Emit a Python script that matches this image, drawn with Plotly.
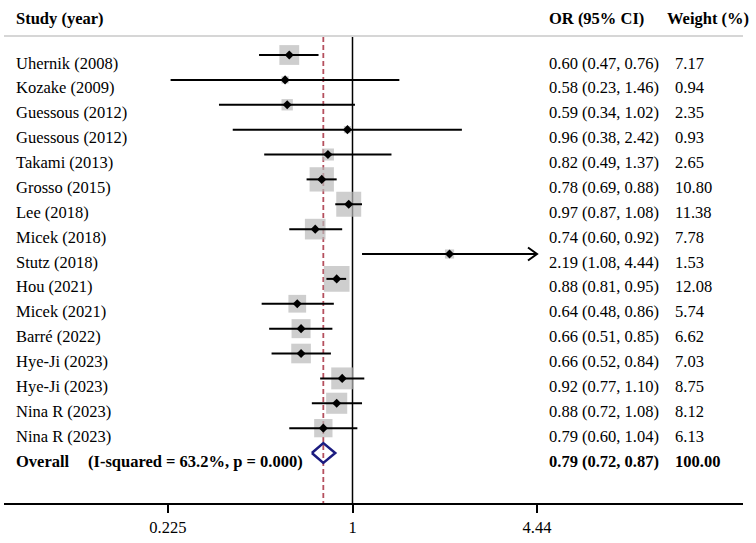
import math
import plotly.graph_objects as go

studies = ["Uhernik (2008)", "Kozake (2009)", "Guessous (2012)", "Guessous (2012)", "Takami (2013)",
           "Grosso (2015)", "Lee (2018)", "Micek (2018)", "Stutz (2018)", "Hou (2021)", "Micek (2021)",
           "Barré (2022)", "Hye-Ji (2023)", "Hye-Ji (2023)", "Nina R (2023)", "Nina R (2023)"]
or_vals = [0.60, 0.58, 0.59, 0.96, 0.82, 0.78, 0.97, 0.74, 2.19, 0.88, 0.64, 0.66, 0.66, 0.92, 0.88, 0.79]
ci_low = [0.47, 0.23, 0.34, 0.38, 0.49, 0.69, 0.87, 0.60, 1.08, 0.81, 0.48, 0.51, 0.52, 0.77, 0.72, 0.60]
ci_high = [0.76, 1.46, 1.02, 2.42, 1.37, 0.88, 1.08, 0.92, 4.44, 0.95, 0.86, 0.85, 0.84, 1.10, 1.08, 1.04]
weights = [7.17, 0.94, 2.35, 0.93, 2.65, 10.80, 11.38, 7.78, 1.53, 12.08, 5.74, 6.62, 7.03, 8.75, 8.12, 6.13]
overall_or, overall_low, overall_high, overall_weight = 0.79, 0.72, 0.87, 100.00
i_squared, p_value = "63.2%", "0.000"
tick_vals = [0.225, 1, 4.44]
tick_text = ["0.225", "1", "4.44"]
x_clip_max = 4.44

W, H = 756, 543
FONT = "Liberation Serif"
FS = 16.5

n = len(studies)
rows = list(range(n))
overall_row = n

# pixel geometry
ROW0_PX, ROW_STEP = 55, 24.875
def py2row(p):
    return (p - ROW0_PX) / ROW_STEP
AX_LEFT, AX_RIGHT, AX_Y = 4, 743, 503
PX_PER_DEC, ONE_PX = 285.0, 352.5
xr = [(AX_LEFT - ONE_PX) / PX_PER_DEC, (AX_RIGHT - ONE_PX) / PX_PER_DEC]
yr = [py2row(AX_Y), py2row(0)]
top_row = py2row(37)

fig = go.Figure()

# reference lines
fig.add_trace(go.Scatter(x=[1, 1], y=[top_row, yr[0]], mode="lines",
                         line=dict(color="black", width=1.5), hoverinfo="skip"))
fig.add_trace(go.Scatter(x=[overall_or, overall_or], y=[top_row, yr[0]], mode="lines",
                         line=dict(color="#b5505e", width=1.8, dash="5px,3px"), hoverinfo="skip"))

# weight boxes
fig.add_trace(go.Scatter(x=or_vals, y=rows, mode="markers",
                         marker=dict(symbol="square", size=[7.4 * math.sqrt(w) for w in weights],
                                     color="#b9b9b9", line=dict(width=0)), hoverinfo="skip"))

# CI lines
cx, cy = [], []
for lo, hi, r in zip(ci_low, ci_high, rows):
    cx += [lo, min(hi, x_clip_max), None]
    cy += [r, r, None]
fig.add_trace(go.Scatter(x=cx, y=cy, mode="lines", line=dict(color="black", width=2), hoverinfo="skip"))

# arrows for CIs reaching the clip limit
ax_, ay_ = [], []
back = 10 ** (9 / PX_PER_DEC)
for hi, r in zip(ci_high, rows):
    if hi >= x_clip_max:
        ax_ += [x_clip_max / back, x_clip_max, x_clip_max / back, None]
        ay_ += [r - 0.26, r, r + 0.26, None]
fig.add_trace(go.Scatter(x=ax_, y=ay_, mode="lines", line=dict(color="black", width=2), hoverinfo="skip"))

# point estimates
fig.add_trace(go.Scatter(x=or_vals, y=rows, mode="markers",
                         marker=dict(symbol="diamond", size=7, color="black"), hoverinfo="skip"))

# overall diamond
fig.add_trace(go.Scatter(x=[overall_low, overall_or, overall_high, overall_or, overall_low],
                         y=[overall_row, overall_row - 0.4, overall_row, overall_row + 0.4, overall_row],
                         mode="lines", line=dict(color="#1c1c80", width=2.5), hoverinfo="skip"))

def px2paper(px):
    return px / W

ann = []
def txt(text, xpx, yrow, bold=False):
    ann.append(dict(text=f"<b>{text}</b>" if bold else text, x=px2paper(xpx), xref="paper",
                    y=yrow, yref="y", xanchor="left", yanchor="middle", showarrow=False,
                    font=dict(family=FONT, size=FS, color="black")))

hdr = py2row(18)
txt("Study (year)", 14, hdr, True)
txt("OR (95% CI)", 547, hdr, True)
txt("Weight (%)", 665, hdr, True)
off = 8 / ROW_STEP
for s, o, lo, hi, w, r in zip(studies, or_vals, ci_low, ci_high, weights, rows):
    txt(s, 14, r + off)
    txt(f"{o:.2f} ({lo:.2f}, {hi:.2f})", 547, r + off)
    txt(f"{w:.2f}", 673, r + off)
txt("Overall", 14, overall_row + off, True)
txt(f"(I-squared = {i_squared}, p = {p_value})", 86, overall_row + off, True)
txt(f"{overall_or:.2f} ({overall_low:.2f}, {overall_high:.2f})", 547, overall_row + off, True)
txt(f"{overall_weight:.2f}", 673, overall_row + off, True)

fig.update_layout(
    width=W, height=H, margin=dict(l=0, r=0, t=0, b=0),
    paper_bgcolor="white", plot_bgcolor="white", showlegend=False,
    annotations=ann,
    shapes=[dict(type="line", xref="paper", yref="y", x0=px2paper(AX_LEFT), x1=px2paper(AX_RIGHT),
                 y0=py2row(36), y1=py2row(36), line=dict(color="#c8c8c8", width=1.5))],
    xaxis=dict(type="log", range=xr, domain=[AX_LEFT / W, AX_RIGHT / W], showgrid=False, zeroline=False,
               showline=True, linecolor="black", linewidth=2, ticks="outside", ticklen=8, tickwidth=1.5,
               tickcolor="black", tickvals=tick_vals, ticktext=tick_text, automargin=False,
               tickfont=dict(family=FONT, size=FS, color="black"), anchor="y"),
    yaxis=dict(range=yr, domain=[(H - AX_Y) / H, 1], visible=False, automargin=False),
)

fig.write_html("out.html", config={"displayModeBar": False},
               post_script="document.body.style.margin='0';document.body.style.overflow='hidden';")
